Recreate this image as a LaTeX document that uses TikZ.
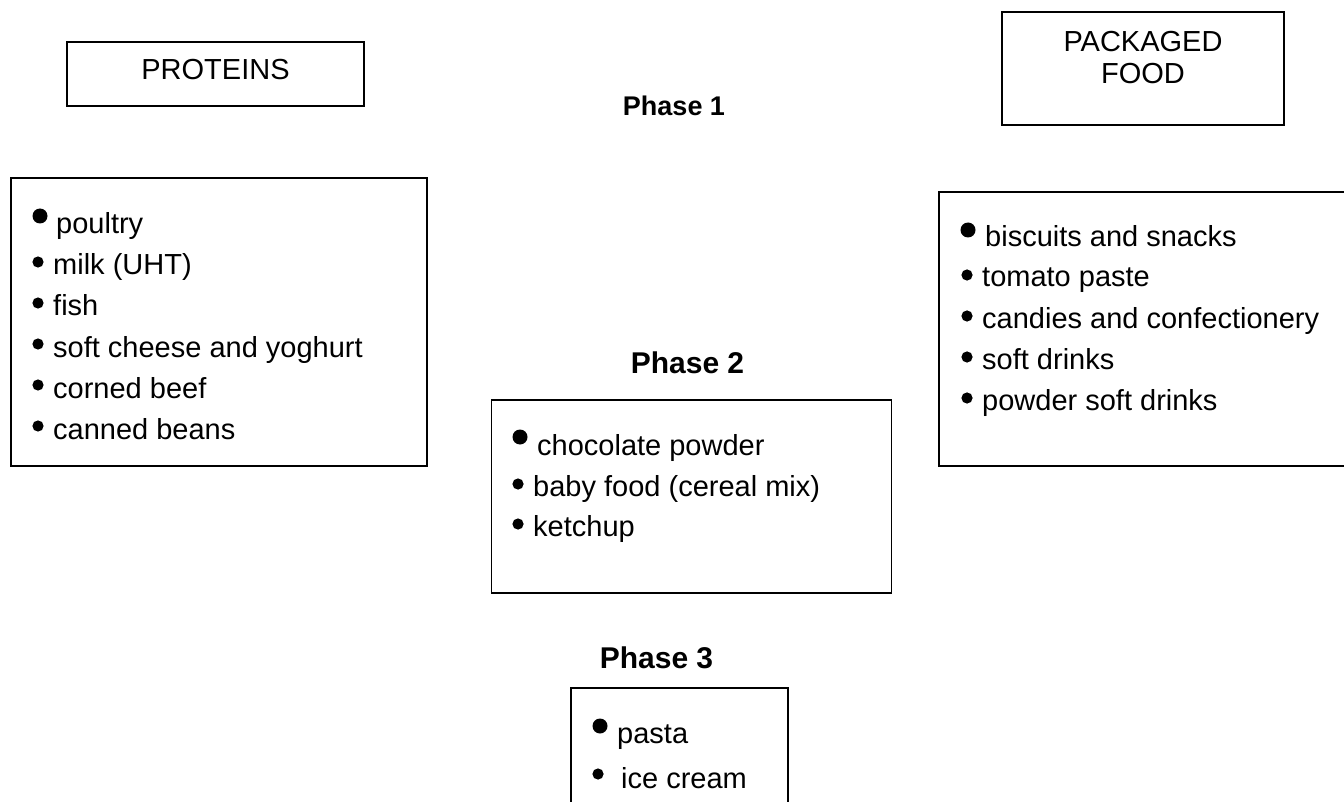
\documentclass[tikz,border=0pt]{standalone}
\usepackage{fontspec}
\setmainfont{Liberation Sans}
\begin{document}
\begin{tikzpicture}[x=1pt,y=-1pt,
  boxline/.style={draw=black,line width=1.8pt},
  box/.style={draw=black,line width=1.8pt,inner sep=0pt,outer sep=0pt},
  item/.style={anchor=base west,inner sep=0pt,font=\fontsize{29}{34}\selectfont},
  head/.style={anchor=base,inner sep=0pt,font=\fontsize{29}{34}\selectfont},
  phasehead/.style={anchor=base,inner sep=0pt,font=\bfseries\fontsize{30}{36}\selectfont},
]
\clip (0,0) rectangle (1344,802);
\fill[white] (0,0) rectangle (1344,802);

% header boxes
\node[box,minimum width=297pt,minimum height=64pt] (protbox) at (215.5,74) {};
\node[head] (prot) at (215.5,80) {PROTEINS};
\node[box,minimum width=282pt,minimum height=113pt] (packbox) at (1143,68.5) {};
\node[head] (pack1) at (1143,52) {PACKAGED};
\node[head] (pack2) at (1143,84) {FOOD};

% phase titles
\node[phasehead,font=\bfseries\fontsize{27}{32}\selectfont] (ph1) at (674,116) {Phase 1};
\node[phasehead] (ph2) at (687.5,373) {Phase 2};
\node[phasehead] (ph3) at (656.5,668) {Phase 3};

% left list box
\node[box,minimum width=416pt,minimum height=288pt] (leftbox) at (219,322) {};
\fill (40,216) circle (7.5);
\node[item] (l1) at (56,234) {poultry};
\fill (38,262) circle (5.6);
\node[item] (l2) at (53,275) {milk (UHT)};
\fill (38,303) circle (5.6);
\node[item] (l3) at (53,316) {fish};
\fill (38,344) circle (5.6);
\node[item] (l4) at (53,357) {soft cheese and yoghurt};
\fill (38,385) circle (5.6);
\node[item] (l5) at (53,398) {corned beef};
\fill (38,426) circle (5.6);
\node[item] (l6) at (53,439) {canned beans};

% right list box (runs off the right edge)
\draw[boxline] (1360,192) -- (939,192) -- (939,466) -- (1360,466);
\fill (968,230) circle (7.5);
\node[item] (r1) at (985,247) {biscuits and snacks};
\fill (967,275) circle (5.6);
\node[item] (r2) at (982,287) {tomato paste};
\fill (967,316) circle (5.6);
\node[item] (r3) at (982,328) {candies and confectionery};
\fill (967,357) circle (5.6);
\node[item] (r4) at (982,369) {soft drinks};
\fill (967,398) circle (5.6);
\node[item] (r5) at (982,410) {powder soft drinks};

% middle box
\node[box,minimum width=400pt,minimum height=193pt] (midbox) at (691.5,496.5) {};
\fill (520,437) circle (7.5);
\node[item] (m1) at (537,455) {chocolate powder};
\fill (518,484) circle (5.6);
\node[item] (m2) at (533,496) {baby food (cereal mix)};
\fill (518,524) circle (5.6);
\node[item] (m3) at (533,536) {ketchup};

% bottom box (runs off the bottom edge)
\draw[boxline] (571,820) -- (571,688) -- (788,688) -- (788,820);
\fill (600,726) circle (7.5);
\node[item] (b1) at (617,743) {pasta};
\fill (598,774) circle (5.6);
\node[item] (b2) at (621,788) {ice cream};
\end{tikzpicture}
\end{document}
